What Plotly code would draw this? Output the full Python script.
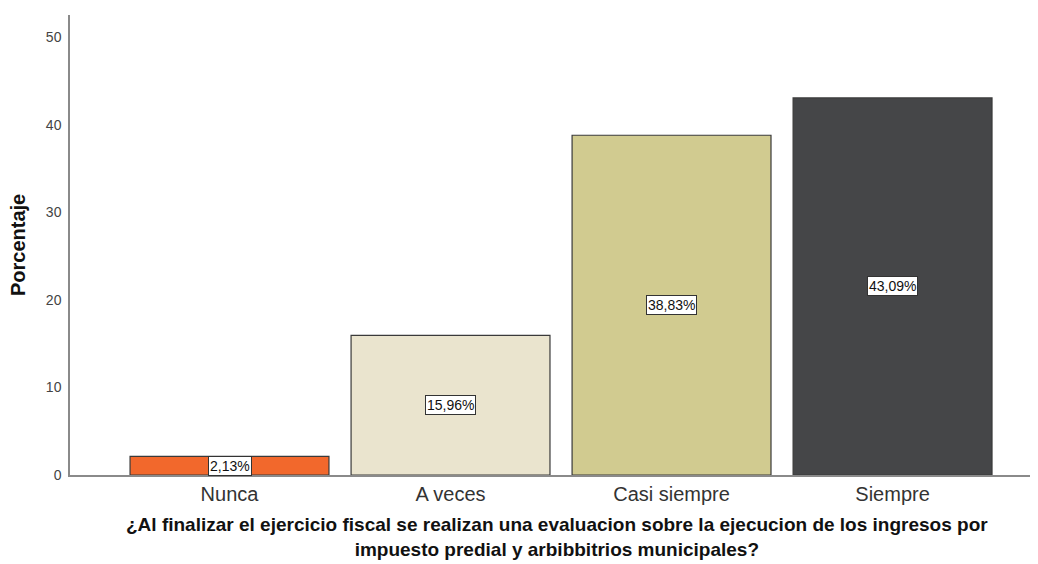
import plotly.graph_objects as go

categories = ["Nunca", "A veces", "Casi siempre", "Siempre"]
values = [2.13, 15.96, 38.83, 43.09]
labels = ["2,13%", "15,96%", "38,83%", "43,09%"]
colors = ["#F2682C", "#EAE4CE", "#D1CB90", "#454648"]
y_ticks = [0, 10, 20, 30, 40, 50]
x_title_lines = [
    "¿Al finalizar el ejercicio fiscal se realizan una evaluacion sobre la ejecucion de los ingresos por",
    "impuesto predial y arbibbitrios municipales?",
]
y_title = "Porcentaje"

FONT = "Liberation Sans, Arial"

fig = go.Figure()
fig.add_trace(go.Bar(
    x=categories, y=values,
    marker=dict(color=colors, line=dict(color="#3a3a3a", width=1.2)),
    width=0.9, showlegend=False, hoverinfo="skip",
))

for c, v, t in zip(categories, values, labels):
    fig.add_annotation(
        x=c, y=v / 2, text=t, showarrow=False,
        font=dict(family=FONT, size=14, color="#111"),
        bgcolor="white", bordercolor="#333", borderwidth=1, borderpad=1,
    )

# x-axis title
fig.add_annotation(
    xref="paper", yref="paper", x=0.504, y=-0.1891,
    xanchor="center", yanchor="bottom", showarrow=False,
    text="<b>" + "<br>".join(x_title_lines) + "</b>",
    font=dict(family=FONT, size=19, color="#111"),
)

fig.add_annotation(
    xref="paper", yref="paper", x=-0.0538, y=0.5,
    xanchor="center", yanchor="middle", showarrow=False, textangle=-90,
    text="<b>" + y_title + "</b>",
    font=dict(family=FONT, size=20, color="#111"),
)

# page body adds an 8px margin, so the figure is sized/offset to compensate
fig.update_layout(
    width=1030, height=556,
    margin=dict(l=62, r=2, t=7, b=89),
    plot_bgcolor="white", paper_bgcolor="white",
    font=dict(family=FONT, color="#333"),
)
fig.update_xaxes(
    type="category", range=[-0.7217, 3.649], automargin=False,
    showline=True, linecolor="#8a8a8a", linewidth=1.5,
    ticks="", tickfont=dict(size=20, color="#333"),
    showgrid=False,
)
fig.update_yaxes(
    range=[0, 52.57], tickvals=y_ticks, automargin=False,
    showline=True, linecolor="#8a8a8a", linewidth=1.5,
    ticks="", tickfont=dict(size=14, color="#444"), ticklabelstandoff=4,
    showgrid=False, zeroline=False,
)

fig.write_html("out.html")
